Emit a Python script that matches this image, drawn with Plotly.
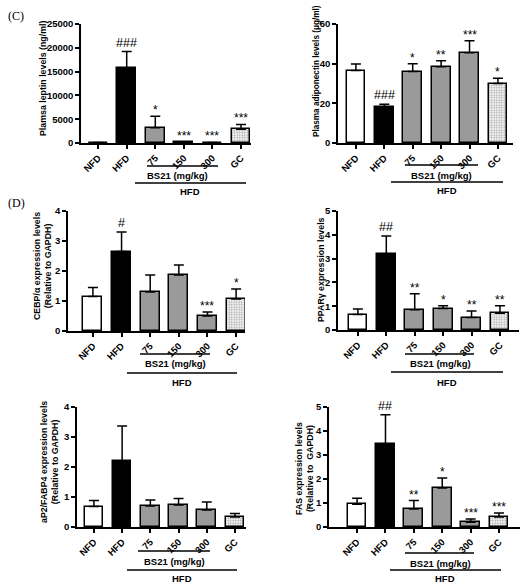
import plotly.graph_objects as go

W, H = 522, 585

categories = ["NFD", "HFD", "75", "150", "300", "GC"]

leptin = [80, 15700, 3200, 150, 80, 2900]
leptin_err = [50, 3500, 2400, 120, 50, 1000]
leptin_sig = ["", "###", "*", "***", "***", "***"]

adipo = [36.5, 18, 36, 38.5, 45.5, 30]
adipo_err = [3.3, 1.5, 4, 3, 6, 2.7]
adipo_sig = ["", "###", "*", "**", "***", "*"]

cebpa = [1.15, 2.65, 1.3, 1.87, 0.5, 1.07]
cebpa_err = [0.3, 0.65, 0.57, 0.33, 0.13, 0.33]
cebpa_sig = ["", "#", "", "", "***", "*"]

pparg = [0.65, 3.18, 0.85, 0.9, 0.52, 0.7]
pparg_err = [0.23, 0.77, 0.67, 0.12, 0.28, 0.32]
pparg_sig = ["", "##", "**", "*", "**", "**"]

ap2 = [0.68, 2.2, 0.7, 0.73, 0.57, 0.33]
ap2_err = [0.2, 1.17, 0.2, 0.22, 0.26, 0.12]
ap2_sig = ["", "", "", "", "", ""]

fas = [0.95, 3.45, 0.75, 1.62, 0.2, 0.42]
fas_err = [0.25, 1.23, 0.35, 0.42, 0.13, 0.16]
fas_sig = ["", "##", "**", "*", "***", "***"]

FONT = "Liberation Sans"
GRAY = "#9a9a9a"


def px(x):
    return x / W


def py(y):
    return 1 - y / H


panels = [
    dict(data=leptin, err=leptin_err, sig=leptin_sig, x0=81, x1=251, yt=24, yb=143,
         xr=[-0.6, 5.35], yr=[0, 25000], dt=5000,
         title="Plamsa leptin levels (ng/ml)", tx=43, ty=79, ts=8.8,
         bs=(147, 218, 166), bst=(177, 175), hf=(135, 246, 183), hft=(190, 192)),
    dict(data=adipo, err=adipo_err, sig=adipo_sig, x0=338, x1=513, yt=24, yb=143,
         xr=[-0.63, 5.53], yr=[0, 60], dt=20,
         title="Plasma adiponectin levels (μg/ml)", tx=316, ty=71, ts=8.2,
         bs=(405, 478, 165), bst=(441, 175), hf=(391, 503, 182), hft=(447, 191)),
    dict(data=cebpa, err=cebpa_err, sig=cebpa_sig, x0=68, x1=245, yt=211, yb=331,
         xr=[-0.87, 5.31], yr=[0, 4], dt=1,
         title="CEBP/α expression levels<br>(Relative to GAPDH)", tx=43, ty=266, ts=8.8,
         bs=(140, 210, 354), bst=(175, 363), hf=(127, 237, 373), hft=(182, 382)),
    dict(data=pparg, err=pparg_err, sig=pparg_sig, x0=338, x1=519, yt=211, yb=330,
         xr=[-0.7, 5.67], yr=[0, 5], dt=1,
         title="PPARγ expression levels", tx=321, ty=270, ts=8.8,
         bs=(405, 474, 354), bst=(440, 363), hf=(391, 503, 372), hft=(447, 382)),
    dict(data=ap2, err=ap2_err, sig=ap2_sig, x0=77, x1=246, yt=407, yb=527,
         xr=[-0.6, 5.39], yr=[0, 4], dt=1,
         title="aP2/FABP4 expression levels<br>(Relative to GAPDH)", tx=49, ty=462, ts=8.8,
         bs=(138, 210, 551), bst=(174, 561), hf=(127, 237, 570), hft=(182, 578)),
    dict(data=fas, err=fas_err, sig=fas_sig, x0=329, x1=520, yt=407, yb=527,
         xr=[-0.99, 5.74], yr=[0, 5], dt=1,
         title="FAS expression levels<br>(Relative to  GAPDH)", tx=304, ty=469, ts=8.8,
         bs=(405, 474, 553), bst=(440, 563), hf=(390, 501, 570), hft=(445, 578)),
]

fig = go.Figure()
shapes = []
annotations = []

fill_colors = ["white", "black", GRAY, GRAY, GRAY, "#f4f4f4"]


def paper_text(x, y, text, size=9.5, **kw):
    d = dict(x=px(x), y=py(y), xref="paper", yref="paper", text=text, showarrow=False,
             xanchor="center", yanchor="middle",
             font=dict(family=FONT, size=size, color="black", weight="bold"))
    d.update(kw)
    return d


for i, p in enumerate(panels, start=1):
    xa = "x" if i == 1 else f"x{i}"
    ya = "y" if i == 1 else f"y{i}"
    xs = list(range(len(categories)))
    fig.add_trace(go.Bar(
        x=xs, y=p["data"], xaxis=xa, yaxis=ya, width=0.66,
        marker=dict(
            color=fill_colors,
            line=dict(color="black", width=1.5),
            pattern=dict(shape=["", "", "", "", "", "."], fgcolor="#b0b0b0",
                         bgcolor="#f8f8f8", size=2.5, solidity=0.3),
        ),
        error_y=dict(type="data", array=p["err"], arrayminus=[0] * 6, symmetric=False,
                     color="black", thickness=1.5, width=5),
        showlegend=False, hoverinfo="skip",
    ))
    ticks = list(range(p["yr"][0], int(p["yr"][1]) + 1, p["dt"]))
    axis_common = dict(showline=True, linecolor="black", linewidth=1.6, ticks="outside",
                       ticklen=4, tickwidth=1.5, tickcolor="black", showgrid=False,
                       zeroline=False, automargin=False,
                       tickfont=dict(family=FONT, size=9.5, color="black", weight="bold"))
    fig.update_layout(**{
        ("xaxis" if i == 1 else f"xaxis{i}"): dict(
            domain=[px(p["x0"]), px(p["x1"])], anchor=ya, range=p["xr"],
            tickvals=xs, ticktext=categories, tickangle=-45, **axis_common),
        ("yaxis" if i == 1 else f"yaxis{i}"): dict(
            domain=[py(p["yb"]), py(p["yt"])], anchor=xa, range=p["yr"],
            tickvals=ticks, ticktext=[str(t) for t in ticks], **axis_common),
    })
    for j, s in enumerate(p["sig"]):
        if s:
            annotations.append(dict(
                x=j, y=p["data"][j] + p["err"][j], xref=xa, yref=ya, text=s,
                showarrow=False, xanchor="center", yanchor="bottom",
                yshift=(0 if "#" in s else -3),
                font=dict(family=FONT, size=12.5 if "#" in s else 12, color="black")))
    annotations.append(paper_text(p["tx"], p["ty"], p["title"], size=p["ts"], textangle=-90))
    for (a, b, yy) in (p["bs"], p["hf"]):
        shapes.append(dict(type="line", xref="paper", yref="paper",
                           x0=px(a), x1=px(b), y0=py(yy), y1=py(yy),
                           line=dict(color="black", width=1.3)))
    annotations.append(paper_text(p["bst"][0], p["bst"][1], "BS21 (mg/kg)"))
    annotations.append(paper_text(p["hft"][0], p["hft"][1], "HFD"))

annotations.append(dict(x=px(6), y=py(16), xref="paper", yref="paper", text="(C)",
                        showarrow=False, xanchor="left", yanchor="middle",
                        font=dict(family="Liberation Serif", size=12, color="black")))
annotations.append(dict(x=px(6), y=py(203), xref="paper", yref="paper", text="(D)",
                        showarrow=False, xanchor="left", yanchor="middle",
                        font=dict(family="Liberation Serif", size=12, color="black")))

fig.update_layout(width=W, height=H, margin=dict(l=0, r=0, t=0, b=0, autoexpand=False),
                  paper_bgcolor="white", plot_bgcolor="white",
                  shapes=shapes, annotations=annotations, bargap=0)

fig.write_html("out.html")
